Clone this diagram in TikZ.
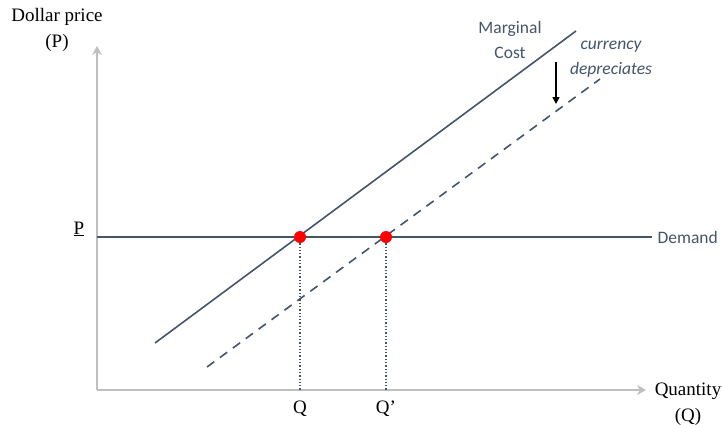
\documentclass[tikz,border=0pt]{standalone}
\usepackage{fontspec}
\setmainfont{Liberation Serif}
\newfontfamily\calib{Carlito}
\usetikzlibrary{arrows.meta,positioning}
\definecolor{slate}{RGB}{68,84,106}
\definecolor{axisgray}{RGB}{191,191,191}
\definecolor{dotred}{RGB}{255,0,0}

\begin{document}
\begin{tikzpicture}[x=1pt,y=-1pt,
    axisline/.style={draw=axisgray,line width=2.2pt,-{Stealth[length=9pt,width=10pt,inset=3pt]}},
    curve/.style={draw=slate,line width=1.6pt},
    guide/.style={draw=slate,line width=1.3pt,dotted},
    eqdot/.style={circle,fill=dotred,inner sep=0pt,minimum size=12pt},
    axislabel/.style={font=\fontsize{19}{26}\selectfont,align=center,text=black},
    curvelabel/.style={font=\calib\fontsize{17.5}{25}\selectfont,align=center,text=slate}]
    \useasboundingbox (0,0) rectangle (722,424);
    % axes
    \coordinate (origin) at (97,390);
    \coordinate (ytop) at (97,46);
    \coordinate (xend) at (646,390);
    \draw[axisline] (origin) -- (ytop);
    \draw[axisline] (origin) -- (xend);
    \node[axislabel] (ylab) at (57,30) {Dollar price\\(P)};
    \node[axislabel] (xlab) at (688,404) {Quantity\\(Q)};
    % curves
    \coordinate (mc0) at (155,343);
    \coordinate (mc1) at (576,31);
    \coordinate (mcd0) at (207,367);
    \coordinate (mcd1) at (600,79);
    \coordinate (dem0) at (97,237);
    \coordinate (dem1) at (652,237);
    \draw[curve] (dem0) -- (dem1);
    \draw[curve] (mc0) -- (mc1);
    \draw[curve,dash pattern=on 9pt off 7pt] (mcd0) -- (mcd1);
    \node[curvelabel,anchor=west] (demlab) at (654,237) {Demand};
    \node[curvelabel] (mclab) at (510,40) {Marginal\\Cost};
    \node[curvelabel,font=\calib\itshape\fontsize{17.5}{25}\selectfont] (shift) at (611,59) {currency\\depreciates};
    \coordinate (shtop) at (556,62);
    \coordinate (shbot) at (556,104);
    \draw[-{Triangle[length=7pt,width=7pt]},line width=1.5pt] (shtop) -- (shbot);
    % equilibria
    \node[eqdot] (eq) at (300,237) {};
    \node[eqdot] (eqnew) at (386,237) {};
    \coordinate (qfoot) at (300,390);
    \coordinate (qnfoot) at (386,390);
    \draw[guide] (eq) -- (qfoot);
    \draw[guide] (eqnew) -- (qnfoot);
    \node[axislabel] (qlab) at (300,409) {Q};
    \node[axislabel] (qnlab) at (386,409) {Q’};
    \node[axislabel] (plab) at (79,229) {\underline{P}};
  \end{tikzpicture}
\end{document}
